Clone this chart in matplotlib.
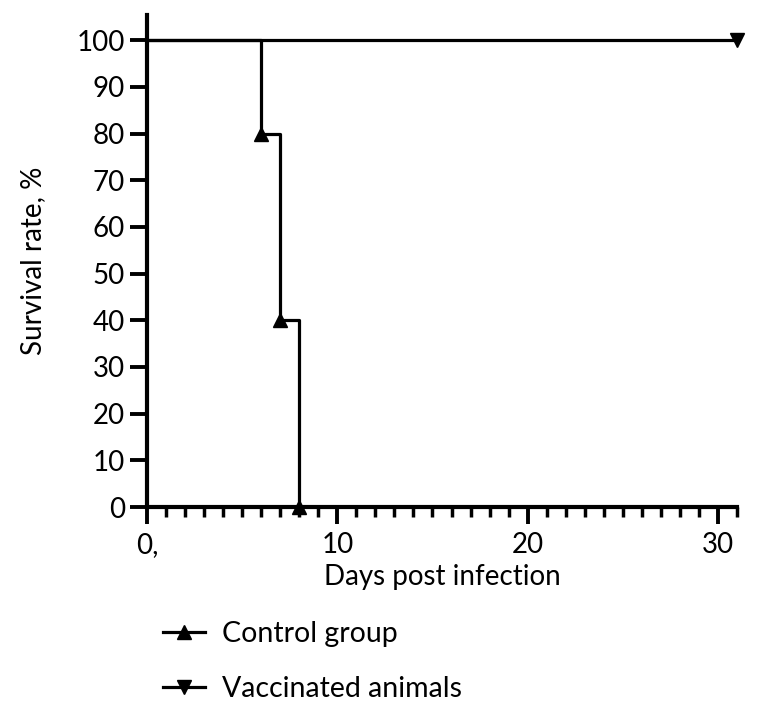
import numpy as np
import matplotlib
matplotlib.use("Agg")
import matplotlib.pyplot as plt
from matplotlib.ticker import MultipleLocator

plt.rcParams['font.family'] = ['Lato', 'DejaVu Sans']

# survival data (days, %)
control_days = [0, 6, 7, 8]
control_surv = [100, 80, 40, 0]
vacc_days = [0, 31]
vacc_surv = [100, 100]

xticks = [0, 10, 20, 30]
xticklabels = ['0,', '10', '20', '30']
yticks = list(range(0, 101, 10))

fig = plt.figure(figsize=(7.62, 7.11), dpi=100)
ax = fig.add_axes([147/762, 1-507/711, 590/762, 492/711])

l1, = ax.plot(control_days, control_surv, drawstyle='steps-post', color='black',
              lw=2.3, marker='^', ms=10, markevery=[1, 2, 3], clip_on=False, zorder=5)
l2, = ax.plot(vacc_days, vacc_surv, drawstyle='steps-post', color='black',
              lw=2.3, marker='v', ms=10, markevery=[1], clip_on=False, zorder=5)

ax.set_xlim(0, 31)
ax.set_ylim(0, 105.4)
ax.set_xticks(xticks)
ax.set_xticklabels(xticklabels)
ax.xaxis.set_minor_locator(MultipleLocator(1))
ax.set_yticks(yticks)

for s in ['top', 'right']:
    ax.spines[s].set_visible(False)
for s in ['left', 'bottom']:
    ax.spines[s].set_linewidth(3)

ax.tick_params(axis='both', which='major', length=12, width=2.8, labelsize=20)
ax.tick_params(axis='x', which='major', pad=6)
ax.tick_params(axis='y', which='major', pad=4)
ax.tick_params(axis='x', which='minor', length=7, width=2.5)
ax.tick_params(axis='y', which='minor', left=False)

ax.set_xlabel('Days post infection', fontsize=20, labelpad=4)
ax.set_ylabel('Survival rate, %', fontsize=20, labelpad=22)

fig.legend([l1, l2], ['Control group', 'Vaccinated animals'],
           loc='upper left', bbox_to_anchor=(152/762, 1-610/711), borderaxespad=0,
           frameon=False, fontsize=20.5, handlelength=1.45, handletextpad=0.6,
           labelspacing=1.0)

fig.savefig('out.png', dpi=100)
